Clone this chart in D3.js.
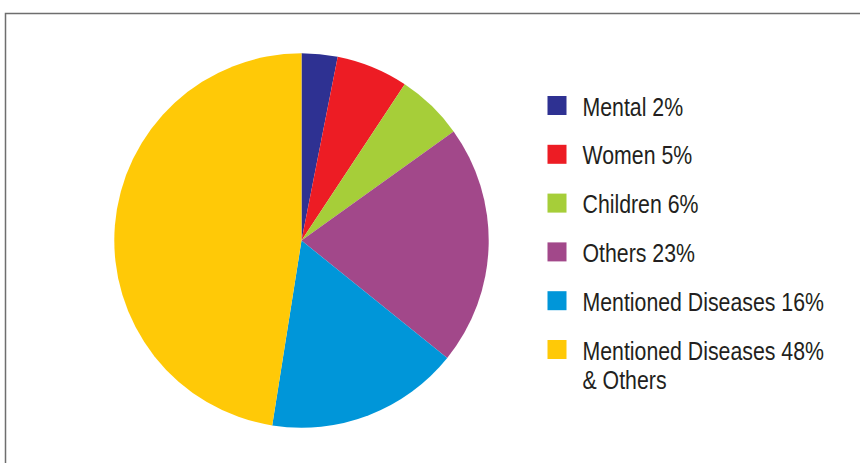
<!DOCTYPE html>
<html>
<head>
<meta charset="utf-8">
<script src="https://cdn.jsdelivr.net/npm/d3@7"></script>
<style>
  html, body { margin: 0; padding: 0; background: #fff; }
  svg { display: block; }
  .legend text { font-family: "Liberation Sans", Arial, sans-serif; font-size: 25px; fill: #231f20; }
</style>
</head>
<body>
<div id="root"></div>
<script>
// slice sizes as drawn (share of the circle, %)
const categories = ["Mental", "Women", "Children", "Others", "Mentioned Diseases", "Mentioned Diseases & Others"];
const values = [3.1, 6.2, 5.8, 20.7, 16.7, 47.5];
const legendLabels = [["Mental 2%"], ["Women 5%"], ["Children 6%"], ["Others 23%"], ["Mentioned Diseases 16%"], ["Mentioned Diseases 48%", "& Others"]];
const colors = ["#2e3192", "#ed1c24", "#a6ce39", "#a2488a", "#0096d9", "#ffc907"];

const width = 860, height = 463;
const svg = d3.select('#root').append('svg').attr('width', width).attr('height', height);

// frame
svg.append('rect')
  .attr('x', 5.5).attr('y', 13.5)
  .attr('width', 900).attr('height', 500)
  .attr('fill', 'none').attr('stroke', '#6e6e6e').attr('stroke-width', 1.5);

const cx = 301.5, cy = 240.5, r = 187.2;
const pie = d3.pie().sort(null).value(d => d)(values);
const arc = d3.arc().innerRadius(0).outerRadius(r);
const color = d3.scaleOrdinal().domain(categories).range(colors);

svg.append('g').attr('transform', `translate(${cx},${cy})`)
  .selectAll('path')
  .data(pie)
  .enter()
  .append('path')
    .attr('d', arc)
    .attr('fill', (d, i) => color(categories[i]));

// legend
const ly = d3.scalePoint().domain(categories).range([105.5, 349.5]);
const legend = svg.append('g').attr('class', 'legend');
const rows = legend.selectAll('g').data(categories).enter().append('g')
  .attr('transform', d => `translate(0,${ly(d)})`);
rows.append('rect')
  .attr('x', 547.5).attr('y', -9.5)
  .attr('width', 19).attr('height', 19)
  .attr('fill', d => color(d));
// condensed look: narrow the glyphs horizontally
rows.append('text')
  .attr('transform', 'translate(582.5,10) scale(0.852,1)')
  .selectAll('tspan')
  .data((d, i) => legendLabels[i])
  .enter().append('tspan')
    .attr('x', 0)
    .attr('dy', (d, j) => j === 0 ? 0 : 30)
    .text(d => d);
</script>
</body>
</html>
